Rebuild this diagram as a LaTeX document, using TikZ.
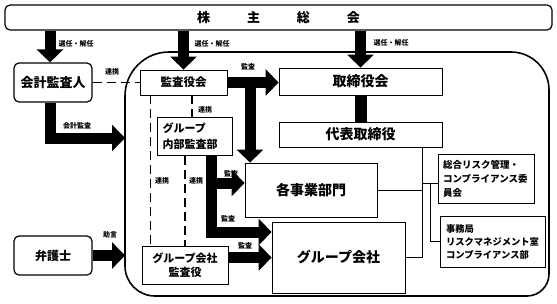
\documentclass[tikz,border=0pt]{standalone}
\usepackage{fontspec}
\setmainfont{Noto Sans CJK JP}
\usetikzlibrary{positioning, arrows.meta}

\begin{document}
\begin{tikzpicture}[
    x=1pt, y=-1pt,
    box/.style={draw, line width=0.8pt, inner sep=0pt},
    rbox/.style={box, line width=1.2pt, rounded corners=5pt},
    lab/.style={inner sep=0pt, font=\fontsize{7}{8}\selectfont\bfseries},
    bigarrow/.style={line width=11pt, -{Triangle[width=26pt, length=13pt]}},
    link/.style={line width=1.2pt, dash pattern=on 9pt off 5pt},
    wire/.style={line width=1pt}
]
\useasboundingbox (0,0) rectangle (557,303);

% company frame
\draw[line width=1.6pt] (125,266) -- (125,96) arc[start angle=180, end angle=270, radius=44]
    -- (511,52) arc[start angle=270, end angle=360, radius=38]
    -- (549,274) arc[start angle=0, end angle=90, radius=22]
    -- (155,296) arc[start angle=90, end angle=180, radius=30] -- cycle;
\coordinate (kaisha-a) at (125,138);
\coordinate (kaisha-b) at (125,255.5);

\node[rbox, minimum width=547pt, minimum height=25pt, font=\fontsize{13}{15}\selectfont\bfseries] (soukai) at (278.5,17.5) {株\hspace{37pt}主\hspace{37pt}総\hspace{37pt}会};
    \node[rbox, minimum width=78pt, minimum height=39pt, font=\fontsize{13}{15}\selectfont\bfseries] (kaikei) at (53,82.5) {会計監査人};
    \node[rbox, minimum width=78pt, minimum height=39pt, font=\fontsize{12}{14}\selectfont\bfseries] (bengoshi) at (53,255.5) {弁護士};

\node[box, minimum width=87pt, minimum height=25pt, font=\fontsize{11.5}{14}\selectfont\bfseries] (kansayakukai) at (183.5,82.5) {監査役会};
    \node[box, minimum width=163pt, minimum height=27pt, font=\fontsize{14}{16}\selectfont\bfseries] (torishimariyakukai) at (360.5,81.5) {取締役会};
    \node[box, minimum width=163pt, minimum height=25pt, font=\fontsize{14}{16}\selectfont\bfseries] (daihyo) at (360.5,134.5) {代表取締役};
    \node[box, text width=64pt, inner sep=5.5pt, minimum height=37pt, align=left, font=\fontsize{11}{16}\selectfont\bfseries] (naibu) at (194.5,136.5) {グループ\\内部監査部};
    \node[box, minimum width=132pt, minimum height=54pt, font=\fontsize{14}{16}\selectfont\bfseries] (kakujigyo) at (311,190) {各事業部門};
    \node[box, minimum width=133pt, minimum height=71pt, font=\fontsize{14}{16}\selectfont\bfseries] (group) at (338.5,257.5) {グループ会社};
    \node[box, minimum width=86pt, minimum height=38pt, align=center, font=\fontsize{11}{14}\selectfont\bfseries] (gkansayaku) at (185,265) {グループ会社\\監査役};
    \node[box, text width=86pt, inner sep=5pt, minimum height=49pt, align=left, font=\fontsize{9.5}{14}\selectfont\bfseries] (risk) at (486,178.5) {総合リスク管理・\\コンプライアンス委\\員会};
    \node[box, text width=93pt, inner sep=6pt, minimum height=51pt, align=left, font=\fontsize{9.3}{13}\selectfont\bfseries] (jimukyoku) at (492.5,241.5) {事務局\\リスクマネジメント室\\コンプライアンス部};

% appointment arrows
\coordinate (kk) at ([xshift=-3pt]kaikei.north);
\draw[bigarrow] (soukai.south -| kk) -- (kk);
    \draw[bigarrow] (soukai.south -| kansayakukai.north) -- (kansayakukai.north);
    \draw[bigarrow] (soukai.south -| torishimariyakukai.north) -- (torishimariyakukai.north);
    \draw[bigarrow] (kaikei.south -| kk) |- (kaisha-a);
    \draw[bigarrow] (bengoshi.east) -- (kaisha-b);
    \draw[line width=12pt] (torishimariyakukai.south) -- (daihyo.north);

% audit arrows
\coordinate (tbranch) at (250,82.5);
\coordinate (nshaft) at ([xshift=17pt]naibu.south);
\coordinate (kjin) at ([yshift=7pt]kakujigyo.west);
\coordinate (grin) at ([yshift=25.5pt]group.west);
\draw[bigarrow] (kansayakukai.east) -- (kansayakukai.east -| torishimariyakukai.west);
    \draw[bigarrow] (tbranch) -- (tbranch |- kakujigyo.north);
    \draw[bigarrow] (nshaft) |- (grin);
    \draw[bigarrow] (nshaft |- kjin) -- (kjin);
    \draw[bigarrow] (gkansayaku.east |- group.west) -- (group.west);

% cooperation
\coordinate (d1) at ([xshift=-33pt]kansayakukai.south);
\coordinate (d2) at ([xshift=8.5pt]kansayakukai.south);
\coordinate (d3) at ([xshift=-9.5pt]naibu.south);
\draw[link] (kaikei.east) -- (kansayakukai.west);
    \draw[link] (d1) -- (d1 |- gkansayaku.north);
    \draw[link] (d2) -- (d2 |- naibu.north);
    \draw[link] (d3) -- (d3 |- gkansayaku.north);

% reporting lines
\coordinate (spine) at ([xshift=61.5pt]daihyo.south);
\coordinate (rin) at ([yshift=-4.5pt]risk.west);
\coordinate (sub) at ([xshift=-7pt]rin);
\draw[wire] (spine) -- (spine |- group.east) -- (group.east);
    \draw[wire] (kakujigyo.east) -- (kakujigyo.east -| spine);
    \draw[wire] (spine |- rin) -- (rin);
    \draw[wire] (sub) |- (jimukyoku.west);

\node[lab] (l-sen1) at (76,44) {選任・解任};
    \node[lab] (l-sen2) at (212,44) {選任・解任};
    \node[lab] (l-sen3) at (391,43) {選任・解任};
    \node[lab] (l-renkei1) at (112,72) {連携};
    \node[lab] (l-renkei2) at (205,110) {連携};
    \node[lab] (l-renkei3) at (162,181) {連携};
    \node[lab] (l-renkei4) at (196,181) {連携};
    \node[lab] (l-kaikei) at (77,126) {会計監査};
    \node[lab] (l-kansa1) at (248,67) {監査};
    \node[lab] (l-kansa2) at (231,174) {監査};
    \node[lab] (l-kansa3) at (228,219) {監査};
    \node[lab] (l-kansa4) at (245,246) {監査};
    \node[lab] (l-jogen) at (110,235) {助言};
\end{tikzpicture}
\end{document}
